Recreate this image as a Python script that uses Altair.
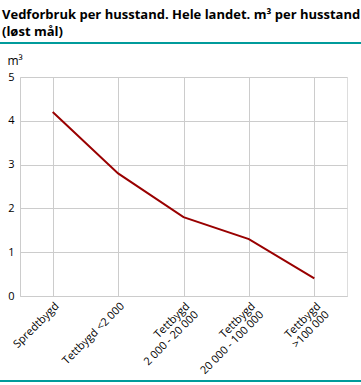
import altair as alt
import pandas as pd

categories = ["Spredtbygd", "Tettbygd <2 000", "Tettbygd|2 000 - 20 000",
              "Tettbygd|20 000 - 100 000", "Tettbygd|>100 000"]
values = [4.2, 2.8, 1.8, 1.3, 0.4]
y_ticks = [0, 1, 2, 3, 4, 5]

df = pd.DataFrame({"kat": categories, "verdi": values})

FONT = "Open Sans"
TEAL = "#009b9b"
GRID = "#cccccc"

line = alt.Chart(df).mark_line(color="#990000", strokeWidth=2).encode(
    x=alt.X("kat:N", sort=categories,
            scale=alt.Scale(type="point", padding=0.5),
            axis=alt.Axis(title=None, labelAngle=-45, labelAlign="right",
                          labelBaseline="top", labelPadding=4,
                          labelExpr="split(datum.label, '|')",
                          labelLineHeight=12, ticks=False,
                          grid=True, gridColor=GRID, domain=True, domainColor=GRID,
                          labelFont=FONT, labelFontSize=11, labelColor="#000")),
    y=alt.Y("verdi:Q", scale=alt.Scale(domain=[0, 5]),
            axis=alt.Axis(title="m³", titleAngle=0, titleAlign="left",
                          titleBaseline="bottom", titleX=-13, titleY=-10,
                          titleFont=FONT, titleFontSize=12, titleFontWeight="normal",
                          values=y_ticks, ticks=False, labelPadding=6,
                          grid=True, gridColor=GRID, domain=True, domainColor=GRID,
                          labelFont=FONT, labelFontSize=11, labelColor="#000")),
)

top_rule = alt.Chart(df).mark_rule(color=TEAL, strokeWidth=1.5).encode(
    x=alt.value(-20), x2=alt.value(341), y=alt.value(-34))
bottom_rule = alt.Chart(df).mark_rule(color=TEAL, strokeWidth=1.5).encode(
    x=alt.value(-20), x2=alt.value(341), y=alt.value(304))

chart = alt.layer(line, top_rule, bottom_rule).properties(
    width=327, height=219,
    autosize=alt.AutoSizeParams(type="none"),
    padding={"left": 20, "top": 77, "right": 14, "bottom": 89},
    title=alt.TitleParams(
        text=["Vedforbruk per husstand. Hele landet. m³ per husstand", "(løst mål)"],
        anchor="start", frame="group", dx=-18, offset=3,
        font=FONT, fontSize=13, fontWeight="bold", color="#000", lineHeight=17),
).configure_view(stroke=None).configure(background="white")

chart.save("out.html", embed_options={"renderer": "svg", "actions": False})
